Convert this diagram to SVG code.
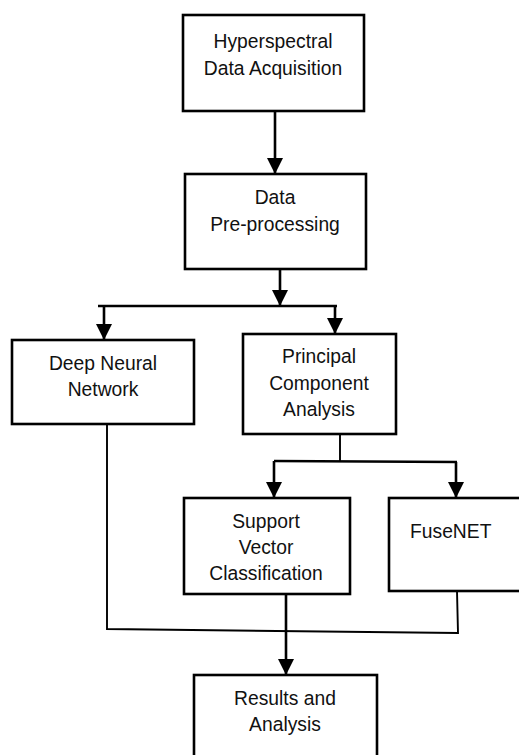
<svg xmlns="http://www.w3.org/2000/svg" width="519" height="755" viewBox="0 0 519 755">
<style>
.box{fill:#fff;stroke:#000;stroke-width:2.6}
.t{font-family:"Liberation Sans",Arial,sans-serif;font-size:19.3px;fill:#111;text-anchor:middle}
.c{fill:none;stroke:#000;stroke-width:2.6}
.thin{fill:none;stroke:#000;stroke-width:1.9}
.arr{marker-end:url(#ah)}
</style>
<defs>
<marker id="ah" markerUnits="userSpaceOnUse" viewBox="0 0 16 16" refX="16" refY="8" markerWidth="16" markerHeight="16" orient="auto">
<path d="M0,0 L16,8 L0,16 z" fill="#000"/>
</marker>
</defs>
<rect width="519" height="755" fill="#fff"/>
<g id="connectors">
<line class="c arr" x1="275" y1="111" x2="275" y2="174"/>
<line class="c arr" x1="280" y1="269" x2="280" y2="306"/>
<line class="c" x1="98" y1="306" x2="337" y2="306"/>
<line class="c arr" x1="104" y1="306" x2="104" y2="340"/>
<line class="c arr" x1="335" y1="306" x2="335" y2="334"/>
<line class="thin" x1="340" y1="434" x2="340" y2="462"/>
<line class="c" x1="274" y1="461" x2="457" y2="462"/>
<line class="c arr" x1="274" y1="461" x2="274" y2="498"/>
<line class="c arr" x1="456" y1="462" x2="456" y2="498"/>
<polyline class="thin" points="107,424 107,629 458,633 457,591"/>
<line class="c arr" x1="286" y1="594" x2="286" y2="675"/>
</g>
<g id="n1">
<rect class="box" x="183" y="15" width="181" height="96"/>
<text class="t" x="273" y="47.5">Hyperspectral</text>
<text class="t" x="273" y="75">Data Acquisition</text>
</g>
<g id="n2">
<rect class="box" x="185" y="174" width="181" height="95"/>
<text class="t" x="275" y="204">Data</text>
<text class="t" x="275" y="230.5">Pre-processing</text>
</g>
<g id="n3">
<rect class="box" x="12" y="340" width="182" height="84"/>
<text class="t" x="103" y="370">Deep Neural</text>
<text class="t" x="103" y="396">Network</text>
</g>
<g id="n4">
<rect class="box" x="243" y="334" width="153" height="100"/>
<text class="t" x="319" y="363">Principal</text>
<text class="t" x="319" y="390">Component</text>
<text class="t" x="319" y="416">Analysis</text>
</g>
<g id="n5">
<rect class="box" x="184" y="498" width="166" height="96"/>
<text class="t" x="266" y="528">Support</text>
<text class="t" x="266" y="554">Vector</text>
<text class="t" x="266" y="580">Classification</text>
</g>
<g id="n6">
<rect class="box" x="389" y="498" width="140" height="93"/>
<text class="t" x="410" y="538" style="text-anchor:start">FuseNET</text>
</g>
<g id="n7">
<rect class="box" x="194" y="675" width="183" height="90"/>
<text class="t" x="285" y="705">Results and</text>
<text class="t" x="285" y="731">Analysis</text>
</g>
</svg>
